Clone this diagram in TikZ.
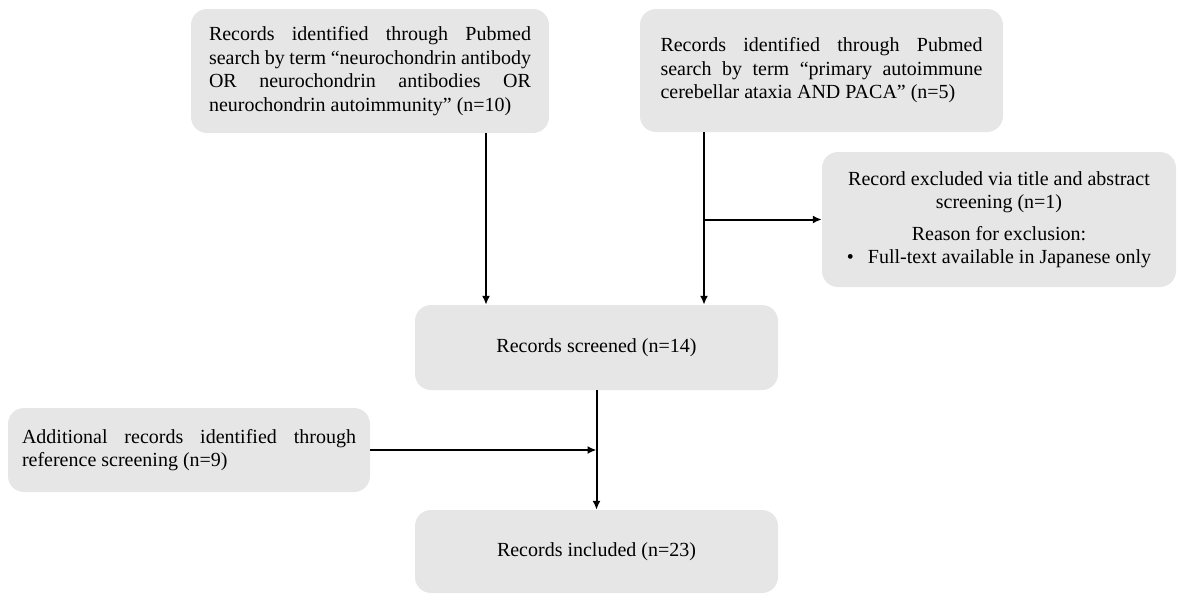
\documentclass[tikz,border=0pt]{standalone}
\usepackage{fontspec}
\setmainfont{Liberation Serif}
\usetikzlibrary{arrows.meta,calc}
\newcommand\boxfontsetup{\fontsize{20}{23.5}\selectfont\hyphenpenalty=10000\relax\exhyphenpenalty=10000\relax}
\begin{document}
\begin{tikzpicture}[x=1pt,y=-1pt,
  box/.style={draw=none,fill=boxgray,rounded corners=16pt,inner sep=0pt,
    font=\boxfontsetup},
  arr/.style={line width=2pt,-{Latex[length=9pt,width=8pt]}}]
\definecolor{boxgray}{RGB}{230,230,230}
\useasboundingbox (0,0) rectangle (1178,595);
\node[box,minimum width=358pt,minimum height=124pt,text width=322pt,align=justify] (A) at (370,71)
  {Records identified through Pubmed search by term “neurochondrin antibody OR neurochondrin antibodies OR neurochondrin autoimmunity” (n=10)};
\node[box,minimum width=363pt,minimum height=123pt,text width=322pt,align=justify] (B) at (821.5,70.5)
  {Records identified through Pubmed search by term “primary autoimmune cerebellar ataxia AND PACA” (n=5)};
\node[box,minimum width=354pt,minimum height=135pt,text width=340pt,align=flush center] (C) at (999,219.5)
  {Record excluded via title and abstract screening (n=1)\\[8pt]
   Reason for exclusion:\\
   \textbullet\hspace{14pt}Full-text available in Japanese only};
\node[box,minimum width=363pt,minimum height=85pt] (D) at (596.5,347.5) {Records screened (n=14)};
\node[box,minimum width=363pt,minimum height=83pt] (E) at (596.5,551.5) {Records included (n=23)};
\node[box,minimum width=362pt,minimum height=84pt,text width=334pt,align=justify] (F) at (189,450)
  {Additional records identified through reference screening (n=9)};
\coordinate (x1) at (486,0);
\coordinate (x2) at (704,0);
\draw[arr] (A.south -| x1) -- (x1 |- D.north);
\draw[arr] (B.south -| x2) -- (x2 |- D.north);
\draw[arr] (x2 |- C.west) -- (C.west);
\draw[arr] (D.south) -- (E.north);
\draw[arr] (F.east) -- (F.east -| D.south);
\end{tikzpicture}
\end{document}
